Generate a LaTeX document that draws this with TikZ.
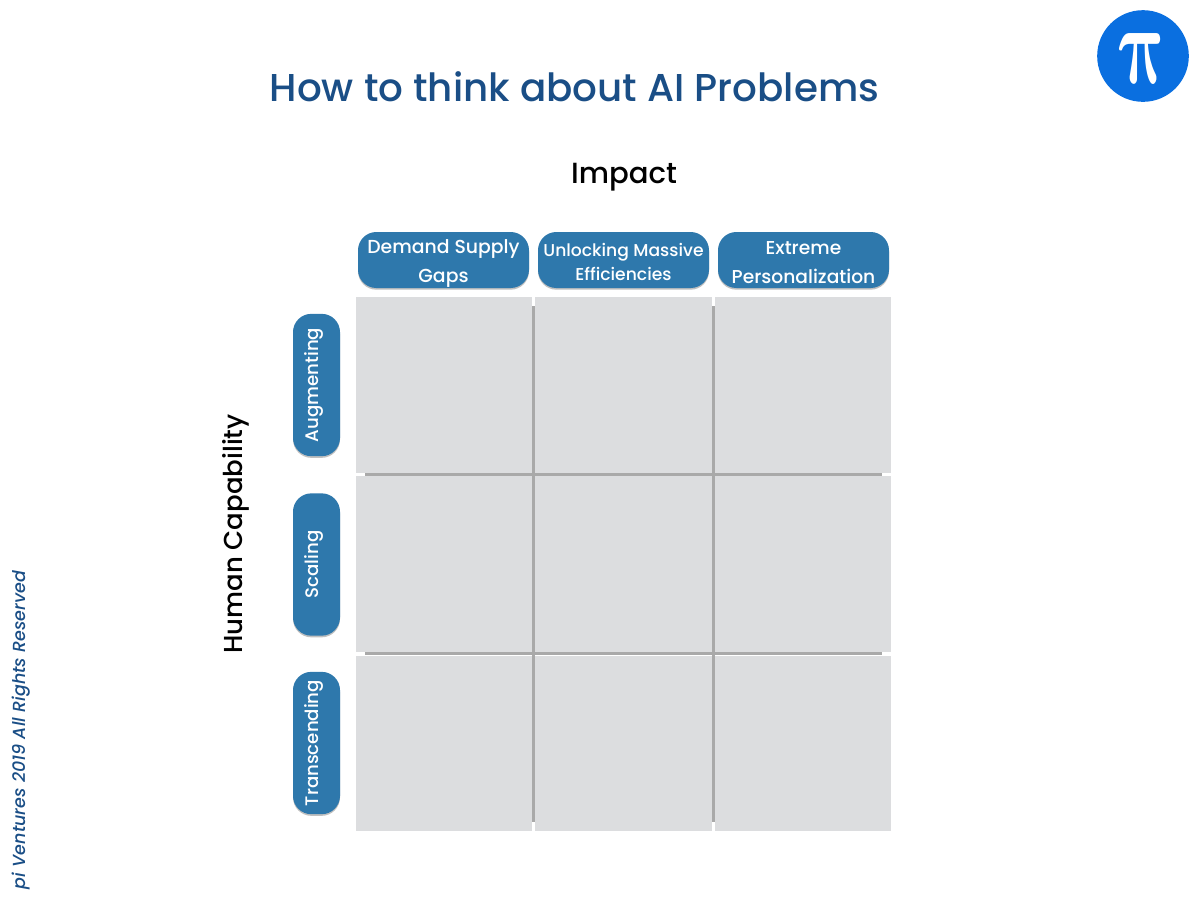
\documentclass[tikz,border=0pt]{standalone}
\usepackage{fontspec}
\usetikzlibrary{shadows,calc}
\setmainfont{Poppins Medium}[ItalicFont={Poppins Medium Italic}]
\definecolor{cellgray}{HTML}{DCDDDF}
\definecolor{linegray}{HTML}{A9A9A9}
\definecolor{pillblue}{HTML}{2E78AC}
\definecolor{titleblue}{HTML}{1A4E86}
\definecolor{piblue}{HTML}{0A6FE0}
\newcommand{\fsz}[2]{\fontsize{#1}{#2}\selectfont}
\newsavebox{\piglyph}
\AtBeginDocument{\sbox{\piglyph}{\color{white}\boldmath$\pi$}}
\tikzset{
  pill/.style={fill=pillblue,draw=none,rounded corners=11pt,inner sep=0,
     drop shadow={shadow xshift=0pt,shadow yshift=-1pt,fill=black,opacity=.25}},
  toppill/.style={pill,minimum width=102.6pt,minimum height=33.6pt},
  sidepill/.style={pill,minimum height=85.4pt,minimum width=28.2pt},
  pilltext/.style={text=white,align=center,inner sep=0},
  sidetext/.style={pilltext,rotate=90,font=\fsz{10.9}{13}},
  gridline/.style={draw=linegray,line width=1.8pt},
}
\begin{document}
\begin{tikzpicture}[x=0.6pt,y=-0.6pt]
\useasboundingbox (0,0) rectangle (1200,901);
% cells
\foreach \a/\b/\c/\d in {356/297/532/472.5,535/297/712/472.5,715/297/891/472.5,
  356/476/532/652,535/476/712/652,715/476/891/652,
  356/656/532/831,535/656/712/831,715/656/891/831}{
  \fill[cellgray] (\a,\b) rectangle (\c,\d);
}
% grid lines
\coordinate (v1t) at (533.5,306); \coordinate (v1b) at (533.5,822);
\coordinate (v2t) at (713.5,306); \coordinate (v2b) at (713.5,822);
\coordinate (h1l) at (365,474.3); \coordinate (h1r) at (882,474.3);
\coordinate (h2l) at (365,653.7); \coordinate (h2r) at (882,653.7);
\draw[gridline] (v1t) -- (v1b);
\draw[gridline] (v2t) -- (v2b);
\draw[gridline] (h1l) -- (h1r);
\draw[gridline] (h2l) -- (h2r);
% top pills
\node[toppill] (demand) at (443.5,260) {};
\node[toppill] (unlock) at (623.5,260) {};
\node[toppill] (extreme) at (803.5,260) {};
\node[pilltext,font=\fsz{11.3}{17.4}] (demandt) at (443.5,263) {Demand Supply\\Gaps};
\node[pilltext,font=\fsz{10.3}{14.4}] (unlockt) at (623.5,262) {Unlocking Massive\\Efficiencies};
\node[pilltext,font=\fsz{11.2}{17.4}] (extremet) at (803.5,263) {Extreme\\Personalization};
% side pills
\node[sidepill] (aug) at (316.5,385) {};
\node[sidepill] (sca) at (316.5,564.5) {};
\node[sidepill] (tra) at (316.5,743) {};
\node[sidetext] (augt) at (313.5,385) {Augmenting};
\node[sidetext] (scat) at (313.5,564.5) {Scaling};
\node[sidetext] (trat) at (313.5,743) {Transcending};
% labels
\node[text=titleblue,font=\fsz{23.3}{28},inner sep=0] (title) at (574.5,87) {How to think about AI Problems};
\node[text=black,font=\fsz{17.5}{21},inner sep=0] (impact) at (624,177) {Impact};
\node[text=black,font=\fsz{15.6}{19},inner sep=0,rotate=90] (human) at (236,534) {Human Capability};
\node[text=titleblue,font=\fsz{10.5}{13}\itshape,inner sep=0,rotate=90] (foot) at (21,730) {pi Ventures 2019 All Rights Reserved};
% logo
\node[circle,fill=piblue,minimum size=55pt,inner sep=0] (logo) at (1143,56) {};
\begin{scope}[shift={(1143,58)},xslant=-0.15,transform shape]
\node[inner sep=0] (pisym) at (0,0) {\resizebox{29pt}{30pt}{\usebox{\piglyph}}};
\end{scope}
\end{tikzpicture}
\end{document}
